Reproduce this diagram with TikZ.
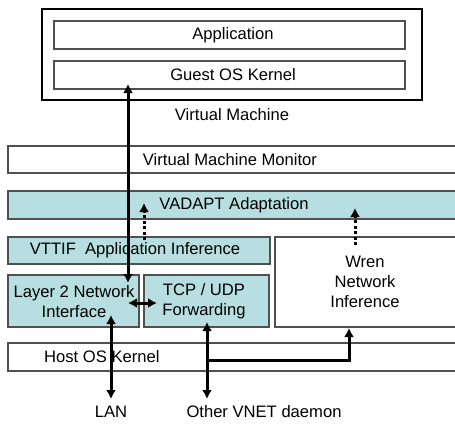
\documentclass[tikz,border=0pt]{standalone}
\usepackage{fontspec}
\setmainfont{Liberation Sans}
\usetikzlibrary{arrows.meta}
\definecolor{boxfill}{HTML}{B7DEE0}
\definecolor{edge}{HTML}{505050}
\tikzset{
  cyanbox/.style={draw=edge, line width=1.2pt, fill=boxfill, inner sep=0pt, outer sep=0pt},
  lbl/.style={inner sep=0pt, font=\fontsize{16.6}{19.8}\selectfont, align=center},
  thick arrow/.style={line width=3pt, {Latex[length=9pt,width=10pt]}-{Latex[length=9pt,width=10pt]}},
  one arrow/.style={line width=3pt, -{Latex[length=9pt,width=10pt]}},
  dash arrow/.style={line width=3pt, dash pattern=on 3pt off 2.5pt, -{Latex[length=9pt,width=10pt]}}
}
\begin{document}
\begin{tikzpicture}[x=1pt,y=-1pt]
\useasboundingbox (0,0) rectangle (455,423);
\clip (0,0) rectangle (455,423);
\fill[white] (0,0) rectangle (455,423);
% virtual machine
\node[draw=black, line width=1.2pt, minimum width=380pt, minimum height=91pt, inner sep=0pt] (vm) at (232,54.5) {};
\node[draw=edge, line width=1.2pt, minimum width=351pt, minimum height=28pt, inner sep=0pt] (app) at (229.5,35) {};
\node[draw=edge, line width=1.2pt, minimum width=351pt, minimum height=28pt, inner sep=0pt] (gok) at (229.5,75) {};
\node[lbl] (appt) at (233,35) {Application};
\node[lbl] (gokt) at (233,75) {Guest OS Kernel};
\node[lbl] (vmt) at (232,115) {Virtual Machine};
% layers
\node[draw=edge, line width=1.2pt, minimum width=460pt, minimum height=27pt, inner sep=0pt] (vmm) at (238,159.5) {};
\node[lbl] (vmmt) at (230,160) {Virtual Machine Monitor};
\node[cyanbox, minimum width=460pt, minimum height=28pt] (vad) at (238,205) {};
\node[lbl] (vadt) at (234,205) {VADAPT Adaptation};
\node[cyanbox, minimum width=262pt, minimum height=27pt] (vtt) at (139,250.5) {};
\node[lbl] (vttt) at (135,250) {VTTIF\ \ Application Inference};
\node[draw=edge, line width=1.2pt, minimum width=190pt, minimum height=90pt, inner sep=0pt] (wren) at (370,282) {};
\node[lbl] (wrent) at (365,282) {Wren\\Network\\Inference};
\node[cyanbox, minimum width=131pt, minimum height=52pt] (l2) at (73.5,301) {};
\node[lbl] (l2t) at (74,301.5) {Layer 2 Network\\Interface};
\node[cyanbox, minimum width=125pt, minimum height=52pt] (tcp) at (206.5,301) {};
\node[lbl] (tcpt) at (204,301.5) {TCP / UDP\\Forwarding};
\node[draw=edge, line width=1.2pt, minimum width=460pt, minimum height=28pt, inner sep=0pt] (host) at (238,357) {};
\node[lbl, anchor=west] (hostt) at (44,357) {Host OS Kernel};
\node[lbl] (lan) at (111,412) {LAN};
\node[lbl] (other) at (264,412) {Other VNET daemon};
% connector endpoints
\coordinate (vmtop) at (128,84);
\coordinate (vmbot) at (128,283);
\coordinate (l2r) at (128,303);
\coordinate (tcpl) at (157,303);
\coordinate (lantop) at (111,315);
\coordinate (lanbot) at (111,399);
\coordinate (otop) at (207,322);
\coordinate (obot) at (207,399);
\coordinate (branch) at (207,360);
\coordinate (corner) at (349,360);
\coordinate (wrenin) at (349,328);
\coordinate (d1s) at (144,240);
\coordinate (d1e) at (144,203);
\coordinate (d2s) at (355,245);
\coordinate (d2e) at (355,208);
% arrows
\draw[thick arrow] (vmtop) -- (vmbot);
\draw[thick arrow] (l2r) -- (tcpl);
\draw[thick arrow] (lantop) -- (lanbot);
\draw[thick arrow] (otop) -- (obot);
\draw[one arrow] (branch) -- (corner) -- (wrenin);
\draw[dash arrow] (d1s) -- (d1e);
\draw[dash arrow] (d2s) -- (d2e);
\end{tikzpicture}
\end{document}
